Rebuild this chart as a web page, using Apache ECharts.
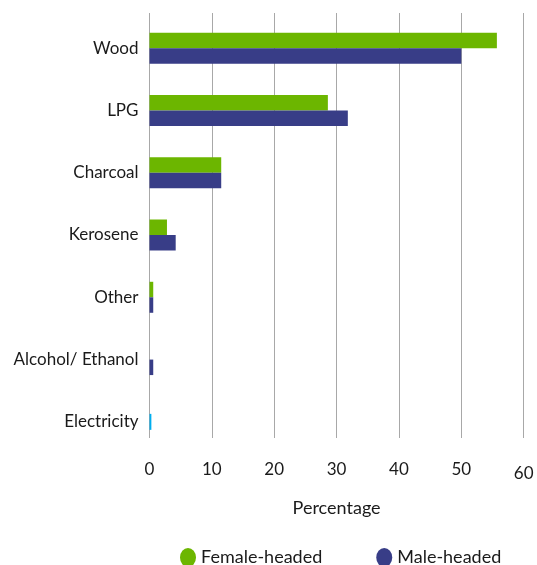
<!DOCTYPE html>
<html>
<head>
<meta charset="utf-8">
<script src="https://cdn.jsdelivr.net/npm/echarts@6/dist/echarts.min.js"></script>
<style>
html,body{margin:0;padding:0;background:#fff;}
#c{width:537px;height:565px;}
</style>
</head>
<body>
<div id="c"></div>
<script>
var categories = ['Wood', 'LPG', 'Charcoal', 'Kerosene', 'Other', 'Alcohol/ Ethanol', 'Electricity'];
var femaleHeaded = [55.7, 28.6, 11.5, 2.8, 0.6, 0, null];
var maleHeaded = [50.0, 31.8, 11.5, 4.2, 0.6, 0.6, null];
var electricityBoth = [null, null, null, null, null, null, 0.3];
var xTicks = [0, 10, 20, 30, 40, 50, 60];

var FONT = 'Lato';
var chart = echarts.init(document.getElementById('c'));
chart.setOption({
  animation: false,
  textStyle: {fontFamily: FONT},
  grid: [
    {left: 149.5, right: 13.3, top: 17, bottom: 112},
    {left: 149.5, right: 13.3, top: 13, bottom: 127}
  ],
  xAxis: [
    {gridIndex: 0, type: 'value', min: 0, max: 60, interval: 10,
     axisLine: {show: false}, axisTick: {show: false}, splitLine: {show: false},
     axisLabel: {margin: 8, fontSize: 17, color: '#1a1a1a', fontFamily: FONT,
       formatter: function (v) {
         if (xTicks.indexOf(v) < 0) return '';
         return v === 60 ? '{b|60}' : String(v);
       },
       rich: {b: {fontSize: 17, color: '#1a1a1a', fontFamily: FONT, padding: [4, 0, 0, 0]}}},
     name: 'Percentage', nameLocation: 'middle', nameGap: 46,
     nameTextStyle: {fontSize: 18, color: '#1a1a1a', fontFamily: FONT}},
    {gridIndex: 1, type: 'value', min: 0, max: 60, interval: 10,
     axisLine: {show: false}, axisTick: {show: false}, axisLabel: {show: false},
     splitLine: {show: true, lineStyle: {color: '#a8a8a8', width: 1}}}
  ],
  yAxis: [
    {gridIndex: 0, type: 'category', data: categories, inverse: true,
     axisLine: {show: false}, axisTick: {show: false},
     axisLabel: {margin: 11, fontSize: 17, color: '#1a1a1a', fontFamily: FONT}},
    {gridIndex: 0, type: 'category', data: categories, inverse: true, show: false},
    {gridIndex: 1, type: 'category', data: categories, show: false}
  ],
  legend: {
    top: 543, left: 175, itemGap: 54,
    icon: 'path://M0,9.5 A8,9.5 0 1,1 16,9.5 A8,9.5 0 1,1 0,9.5 Z',
    itemWidth: 16, itemHeight: 19,
    data: ['Female-headed', 'Male-headed'],
    textStyle: {fontSize: 18, color: '#1a1a1a', fontFamily: FONT}
  },
  series: [
    {name: 'Female-headed', type: 'bar', xAxisIndex: 0, yAxisIndex: 0, data: femaleHeaded,
     barWidth: 15.5, barGap: '0%', itemStyle: {color: '#6cb600'}},
    {name: 'Male-headed', type: 'bar', xAxisIndex: 0, yAxisIndex: 0, data: maleHeaded,
     barWidth: 15.5, barGap: '0%', itemStyle: {color: '#383d87'}},
    {name: 'Electricity', type: 'bar', xAxisIndex: 0, yAxisIndex: 1, data: electricityBoth,
     barWidth: 16, itemStyle: {color: '#00aeef'}}
  ]
});
</script>
</body>
</html>
